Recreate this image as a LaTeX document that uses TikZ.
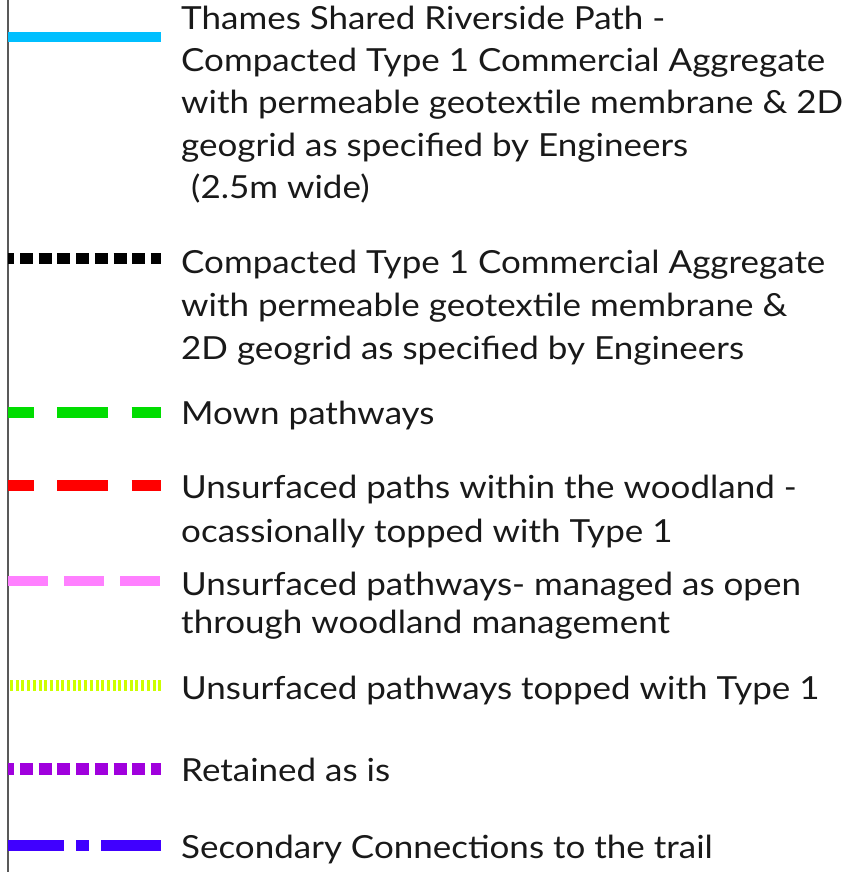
\documentclass[tikz,border=0pt]{standalone}
\usepackage{fontspec}
\setmainfont{Lato}[FakeStretch=1.1]
\definecolor{cblue}{HTML}{00BFFF}
\definecolor{cgreen}{HTML}{00DD00}
\definecolor{cred}{HTML}{FF0000}
\definecolor{cpink}{HTML}{FF80FF}
\definecolor{cyellow}{HTML}{CCFF00}
\definecolor{cpurple}{HTML}{A000DD}
\definecolor{cviolet}{HTML}{4000FF}
\begin{document}
\begin{tikzpicture}[x=1pt,y=1pt,
  lbl/.style={anchor=base west,inner sep=0pt,font=\fontsize{31.8}{36}\selectfont,text=black!90},
  sample/.style={line cap=butt,line width=11pt}]
\useasboundingbox (0,0) rectangle (863,872);
\draw[black!65,line width=1.3pt] (8,872) -- (8,0);
% coordinates (y measured from top: 872 - y)
\coordinate (a0) at (8,835); \coordinate (a1) at (161,835);
\coordinate (b0) at (8,613); \coordinate (b1) at (161,613);
\coordinate (c0) at (8,459); \coordinate (c1) at (161,459);
\coordinate (d0) at (8,386.5); \coordinate (d1) at (161,386.5);
\coordinate (e0) at (8,291); \coordinate (e1) at (161,291);
\coordinate (f0) at (10,186.5); \coordinate (f1) at (161,186.5);
\coordinate (g0) at (8,103); \coordinate (g1) at (161,103);
\coordinate (h0) at (8,26.5); \coordinate (h1) at (161,26.5);
\draw[sample,cblue,line width=10.5pt] (a0) -- (a1);
\draw[sample,black,dash pattern=on 13pt off 5.7pt,dash phase=6.7pt] (b0) -- (b1);
\draw[sample,cgreen,dash pattern=on 51pt off 23.5pt,dash phase=25.5pt] (c0) -- (c1);
\draw[sample,cred,dash pattern=on 51pt off 23.5pt,dash phase=25.5pt] (d0) -- (d1);
\draw[sample,cpink,line width=10.7pt,dash pattern=on 40pt off 16pt] (e0) -- (e1);
\draw[sample,cyellow,dash pattern=on 3pt off 2.7pt] (f0) -- (f1);
\draw[sample,cpurple,line width=11.7pt,dash pattern=on 13pt off 5.7pt,dash phase=6.7pt] (g0) -- (g1);
\draw[sample,cviolet,line width=10.7pt,dash pattern=on 56pt off 12pt on 13pt off 12pt on 70pt off 10pt] (h0) -- (h1);
% labels
\node[lbl] (t1) at (181,842) {Thames Shared Riverside Path -};
\node[lbl] (t2) at (181,800) {Compacted Type 1 Commercial Aggregate};
\node[lbl] (t3) at (181,758) {with permeable geotextile membrane \& 2D};
\node[lbl] (t4) at (181,715) {geogrid as specified by Engineers};
\node[lbl] (t5) at (191,673) {(2.5m wide)};
\node[lbl] (u1) at (181,598) {Compacted Type 1 Commercial Aggregate};
\node[lbl] (u2) at (181,555) {with permeable geotextile membrane \&};
\node[lbl] (u3) at (181,512) {2D geogrid as specified by Engineers};
\node[lbl] (v1) at (181,447) {Mown pathways};
\node[lbl] (w1) at (181,373) {Unsurfaced paths within the woodland -};
\node[lbl] (w2) at (181,329) {ocassionally topped with Type 1};
\node[lbl] (x1) at (181,276) {Unsurfaced pathways- managed as open};
\node[lbl] (x2) at (181,238) {through woodland management};
\node[lbl] (y1) at (181,172) {Unsurfaced pathways topped with Type 1};
\node[lbl] (z1) at (181,90) {Retained as is};
\node[lbl] (s1) at (181,13) {Secondary Connections to the trail};
\end{tikzpicture}
\end{document}
